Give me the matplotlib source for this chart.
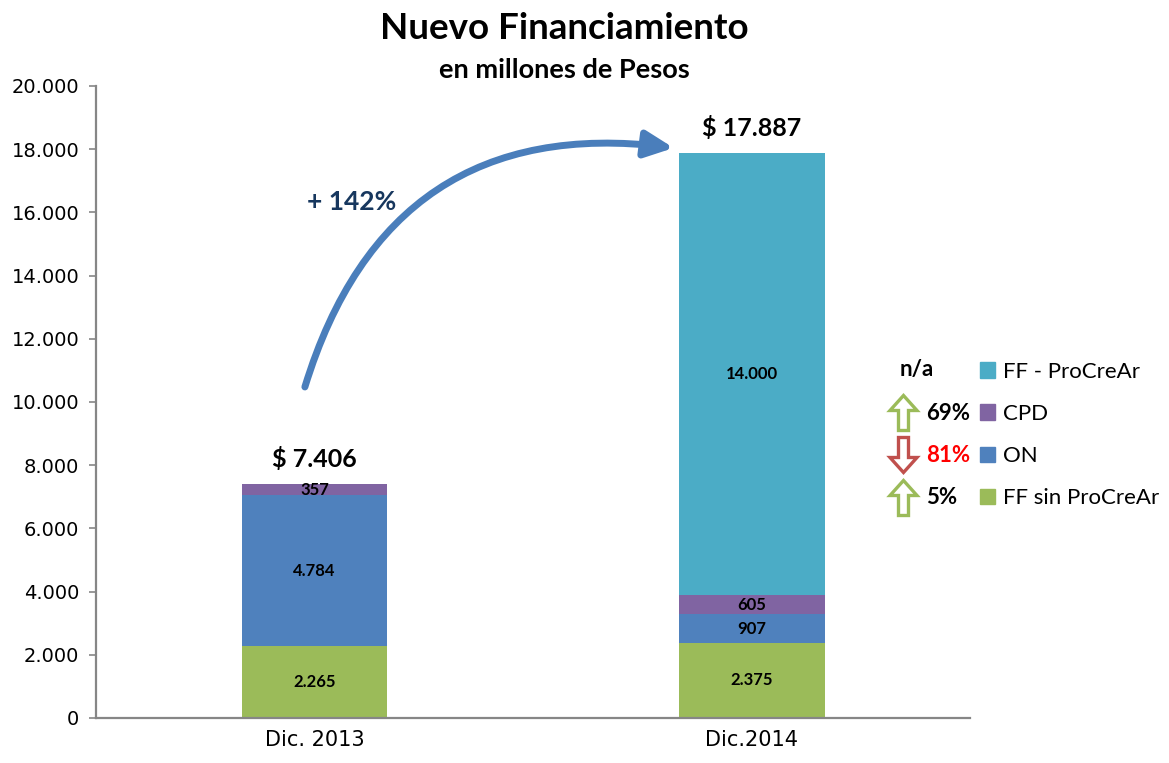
import matplotlib
matplotlib.use("Agg")
import matplotlib.pyplot as plt
from matplotlib.patches import Patch, FancyArrow
from matplotlib.ticker import FuncFormatter

# datos (millones de pesos)
periodos = ["Dic. 2013", "Dic.2014"]
series = ["FF sin ProCreAr", "ON", "CPD", "FF - ProCreAr"]
ff_sin_procrear = [2265, 2375]
on = [4784, 907]
cpd = [357, 605]
ff_procrear = [0, 14000]
variaciones = ["5%", "81%", "69%", "n/a"]  # mismo orden que series
direcciones = ["up", "down", "up", None]
crecimiento = "+ 142%"

colores = ["#9BBB59", "#4F81BD", "#8064A2", "#4BACC6"]
calibri = ["Lato", "DejaVu Sans"]

fig = plt.figure(figsize=(11.69, 7.63), dpi=100)
ax = fig.add_axes([0.0821, 0.059, 0.7477, 0.8283])

valores = [ff_sin_procrear, on, cpd, ff_procrear]
x = list(range(len(periodos)))
base = [0, 0]
ancho = 0.334
for serie, vals, color in zip(series, valores, colores):
    ax.bar(x, vals, ancho, bottom=base, color=color, label=serie, edgecolor="none")
    for i in x:
        if vals[i] > 0:
            ax.text(i, base[i] + vals[i] / 2, f"{vals[i]:,}".replace(",", "."),
                    ha="center", va="center", fontsize=12, fontweight="bold",
                    family=calibri, color="black")
    base = [b + v for b, v in zip(base, vals)]

# totales arriba de cada barra
for i in x:
    ax.annotate(f"$ {base[i]:,}".replace(",", "."), (i, base[i]),
                xytext=(0, 9), textcoords="offset points", ha="center", va="bottom",
                fontsize=18, fontweight="bold", family=calibri)

# flecha curva de crecimiento
ax.annotate("", xy=(0.822, 18040), xytext=(-0.022, 10475),
            arrowprops=dict(arrowstyle="-|>,head_length=0.85,head_width=0.4",
                            connectionstyle="arc3,rad=-0.42", lw=5,
                            color="#4A7EBB", mutation_scale=20,
                            shrinkA=0, shrinkB=0))
ax.text(0.086, 16330, crecimiento, ha="center", va="center", fontsize=19,
        fontweight="bold", color="#17375E", family=calibri)

# ejes
ax.set_xlim(-0.5, 1.5)
ax.set_ylim(0, 20000)
ax.set_yticks(range(0, 20001, 2000))
ax.yaxis.set_major_formatter(FuncFormatter(lambda v, p: f"{v:,.0f}".replace(",", ".")))
ax.set_xticks(x)
ax.set_xticklabels(periodos)
ax.tick_params(axis="y", direction="out", length=5, width=1.2, color="#868686",
               labelsize=14, pad=7)
ax.tick_params(axis="x", length=0, labelsize=15, pad=9)
for s in ["top", "right"]:
    ax.spines[s].set_visible(False)
for s in ["left", "bottom"]:
    ax.spines[s].set_color("#868686")
    ax.spines[s].set_linewidth(1.6)

# titulos
fig.text(0.483, 0.963, "Nuevo Financiamiento", ha="center", va="center",
         fontsize=26.5, fontweight="bold", family=calibri)
fig.text(0.483, 0.908, "en millones de Pesos", ha="center", va="center",
         fontsize=19.5, fontweight="bold", family=calibri)

# leyenda (orden invertido)
handles = [Patch(color=c) for c in colores][::-1]
fig.legend(handles, series[::-1], loc="center left",
           bbox_to_anchor=(0.838, (763 - 435) / 763), frameon=False,
           prop={"family": calibri, "size": 16}, handlelength=0.7,
           handleheight=0.7, handletextpad=0.35, labelspacing=1.0,
           borderpad=0, borderaxespad=0)

# flechas de variacion al lado de la leyenda
filas_y = [498, 455, 413, 370]  # pixeles desde arriba, mismo orden que series
for var, d, fy in zip(variaciones, direcciones, filas_y):
    yc = (763 - fy) / 100
    if d is None:
        fig.text(9.17 / 11.69, yc / 7.63, var, ha="center", va="center",
                 fontsize=16, fontweight="bold", family=calibri)
        continue
    if d == "up":
        arr = FancyArrow(9.035, yc - 0.175, 0, 0.35, width=0.1, head_width=0.27,
                         head_length=0.15, length_includes_head=True,
                         transform=fig.dpi_scale_trans, facecolor="white",
                         edgecolor="#9BBB59", lw=2.4)
    else:
        arr = FancyArrow(9.035, yc + 0.175, 0, -0.35, width=0.1, head_width=0.27,
                         head_length=0.15, length_includes_head=True,
                         transform=fig.dpi_scale_trans, facecolor="white",
                         edgecolor="#C0504D", lw=2.4)
    fig.patches.append(arr)
    fig.text(9.26 / 11.69, yc / 7.63, var, ha="left", va="center", fontsize=16,
             fontweight="bold", family=calibri,
             color="red" if d == "down" else "black")

fig.savefig("out.png", dpi=100)
